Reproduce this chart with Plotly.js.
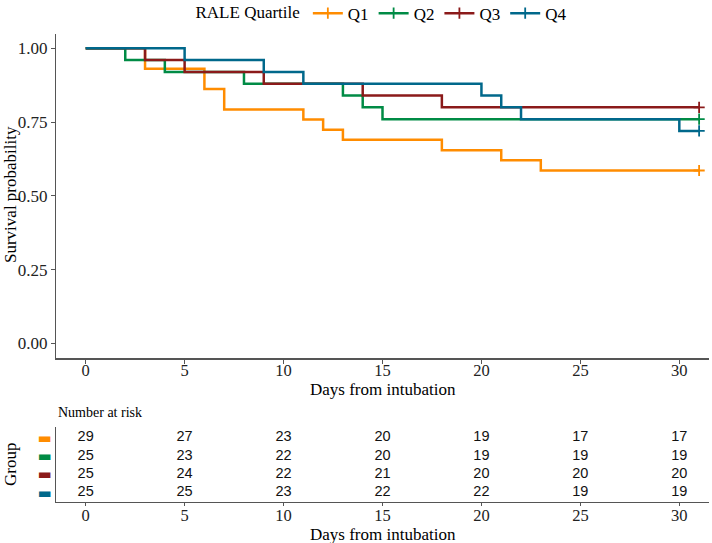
<!DOCTYPE html>
<html>
<head>
<meta charset="utf-8">
<script src="https://cdn.plot.ly/plotly-3.0.1.min.js"></script>
<style>
  html, body { margin: 0; padding: 0; background: #fff; }
  #chart { width: 712px; height: 543px; }
</style>
</head>
<body>
<div id="chart"></div>
<script>
// ── Kaplan-Meier by RALE quartile + number-at-risk table ──

const groups = ['Q1', 'Q2', 'Q3', 'Q4'];
const colors = ['#FF8C00', '#008B45', '#8B1A1A', '#00688B'];

// step curves (time in days, survival probability)
const q1Time = [0, 3, 6, 7, 11, 12, 13, 18, 21, 23, 31];
const q1Surv = [1.000, 0.931, 0.862, 0.793, 0.759, 0.724, 0.690, 0.655, 0.621, 0.586, 0.586];
const q2Time = [0, 2, 4, 8, 13, 14, 15, 31];
const q2Surv = [1.00, 0.96, 0.92, 0.88, 0.84, 0.80, 0.76, 0.76];
const q3Time = [0, 3, 5, 9, 14, 18, 31];
const q3Surv = [1.00, 0.96, 0.92, 0.88, 0.84, 0.80, 0.80];
const q4Time = [0, 5, 9, 11, 20, 21, 22, 30, 31];
const q4Surv = [1.00, 0.96, 0.92, 0.88, 0.84, 0.80, 0.76, 0.72, 0.72];

// number at risk
const riskTimes = [0, 5, 10, 15, 20, 25, 30];
const riskQ1 = [29, 27, 23, 20, 19, 17, 17];
const riskQ2 = [25, 23, 22, 20, 19, 19, 19];
const riskQ3 = [25, 24, 22, 21, 20, 20, 20];
const riskQ4 = [25, 25, 23, 22, 22, 19, 19];

const times = [q1Time, q2Time, q3Time, q4Time];
const survs = [q1Surv, q2Surv, q3Surv, q4Surv];
const risks = [riskQ1, riskQ2, riskQ3, riskQ4];
const rowPos = [4, 3, 2, 1];

const SERIF = '"Liberation Serif", "Times New Roman", serif';
const SANS = '"Liberation Sans", Arial, sans-serif';
const AXIS = '#555555';
const FS = 17;

const traces = [];

groups.forEach((g, i) => {
    const t = times[i], s = survs[i];
    traces.push({
        type: 'scatter', mode: 'lines',
        x: t, y: s,
        line: { color: colors[i], width: 2.5, shape: 'hv' },
        legendgroup: g, showlegend: false,
        hoverinfo: 'skip',
    });
    // censor mark at end of follow-up (also the legend entry)
    traces.push({
        type: 'scatter', mode: 'lines+markers',
        x: [t[t.length - 1]], y: [s[s.length - 1]],
        name: g, legendgroup: g,
        line: { color: colors[i], width: 2.5 },
        marker: { symbol: 'cross-thin', size: 8, line: { color: colors[i], width: 1.8 } },
        cliponaxis: false,
    });
});

// risk table numbers
groups.forEach((g, i) => {
    traces.push({
        type: 'scatter', mode: 'text',
        x: riskTimes, y: riskTimes.map(() => rowPos[i]),
        text: risks[i].map(String),
        textfont: { family: SANS, size: 14.5, color: '#111' },
        xaxis: 'x2', yaxis: 'y2',
        showlegend: false, hoverinfo: 'skip',
    });
});

const H = 543, W = 712, L = 56, R = 3;
const px = v => (v - L) / (W - L - R);   // pixel -> paper x
const py = v => (H - v) / H;             // pixel -> paper y

const title = (text, x, y, angle, size) => ({
    text, xref: 'paper', yref: 'paper', x: px(x), y: py(y),
    xanchor: 'center', yanchor: 'middle', textangle: angle || 0,
    showarrow: false, font: { family: SERIF, size: size || FS, color: '#000' },
});

const layout = {
    width: W, height: H,
    margin: { l: L, r: R, t: 0, b: 0, autoexpand: false },
    paper_bgcolor: '#fff', plot_bgcolor: '#fff',
    font: { family: SERIF, size: FS, color: '#000' },
    showlegend: true,
    legend: {
        orientation: 'h', x: 0.5, xanchor: 'center', y: 1.008, yanchor: 'top',
        title: { text: 'RALE Quartile', side: 'left', font: { family: SERIF, size: FS } },
        font: { family: SERIF, size: FS, color: '#000' },
        itemwidth: 30,
        bgcolor: 'rgba(0,0,0,0)',
    },
    xaxis: {
        domain: [0, 1], range: [-1.5, 31.5],
        tickvals: riskTimes, ticks: 'outside', ticklen: 4, tickcolor: AXIS,
        ticklabelstandoff: -7,
        showline: true, linecolor: AXIS, linewidth: 1.2,
        showgrid: false, zeroline: false,
        tickfont: { family: SERIF, size: 16.5, color: '#222' },
        anchor: 'y',
    },
    yaxis: {
        domain: [py(358.3), py(33.5)], range: [-0.05, 1.05],
        tickvals: [0, 0.25, 0.5, 0.75, 1], tickformat: '.2f',
        ticks: 'outside', ticklen: 4, tickcolor: AXIS,
        showline: true, linecolor: AXIS, linewidth: 1.2,
        showgrid: false, zeroline: false,
        tickfont: { family: SERIF, size: FS, color: '#222' },
        anchor: 'x',
    },
    xaxis2: {
        domain: [0, 1], range: [-1.5, 31.5],
        tickvals: riskTimes, ticks: 'outside', ticklen: 3, tickcolor: AXIS,
        ticklabelstandoff: -5,
        showline: true, linecolor: AXIS, linewidth: 1.2,
        showgrid: false, zeroline: false,
        tickfont: { family: SERIF, size: 16.5, color: '#222' },
        anchor: 'y2',
    },
    yaxis2: {
        domain: [py(502), py(426.7)], range: [0.48, 4.6],
        tickvals: rowPos,
        ticktext: colors.map(c => `<span style="color:${c}">▬</span>`),
        ticks: '', showline: true, linecolor: AXIS, linewidth: 1.2,
        showgrid: false, zeroline: false,
        tickfont: { family: '"DejaVu Sans", sans-serif', size: 15 },
        anchor: 'x2',
    },
    annotations: [
        title('Days from intubation', 383, 389),
        title('Survival probability', 11, 195, -90),
        title('Days from intubation', 383, 534),
        title('Group', 10, 465, -90),
        {
            text: 'Number at risk', xref: 'paper', yref: 'paper',
            x: 0, xanchor: 'left', y: py(413), yanchor: 'middle',
            showarrow: false, font: { family: SERIF, size: 14, color: '#000' },
        },
    ],
};

Plotly.newPlot('chart', traces, layout, { displayModeBar: false, staticPlot: true });
</script>
</body>
</html>
